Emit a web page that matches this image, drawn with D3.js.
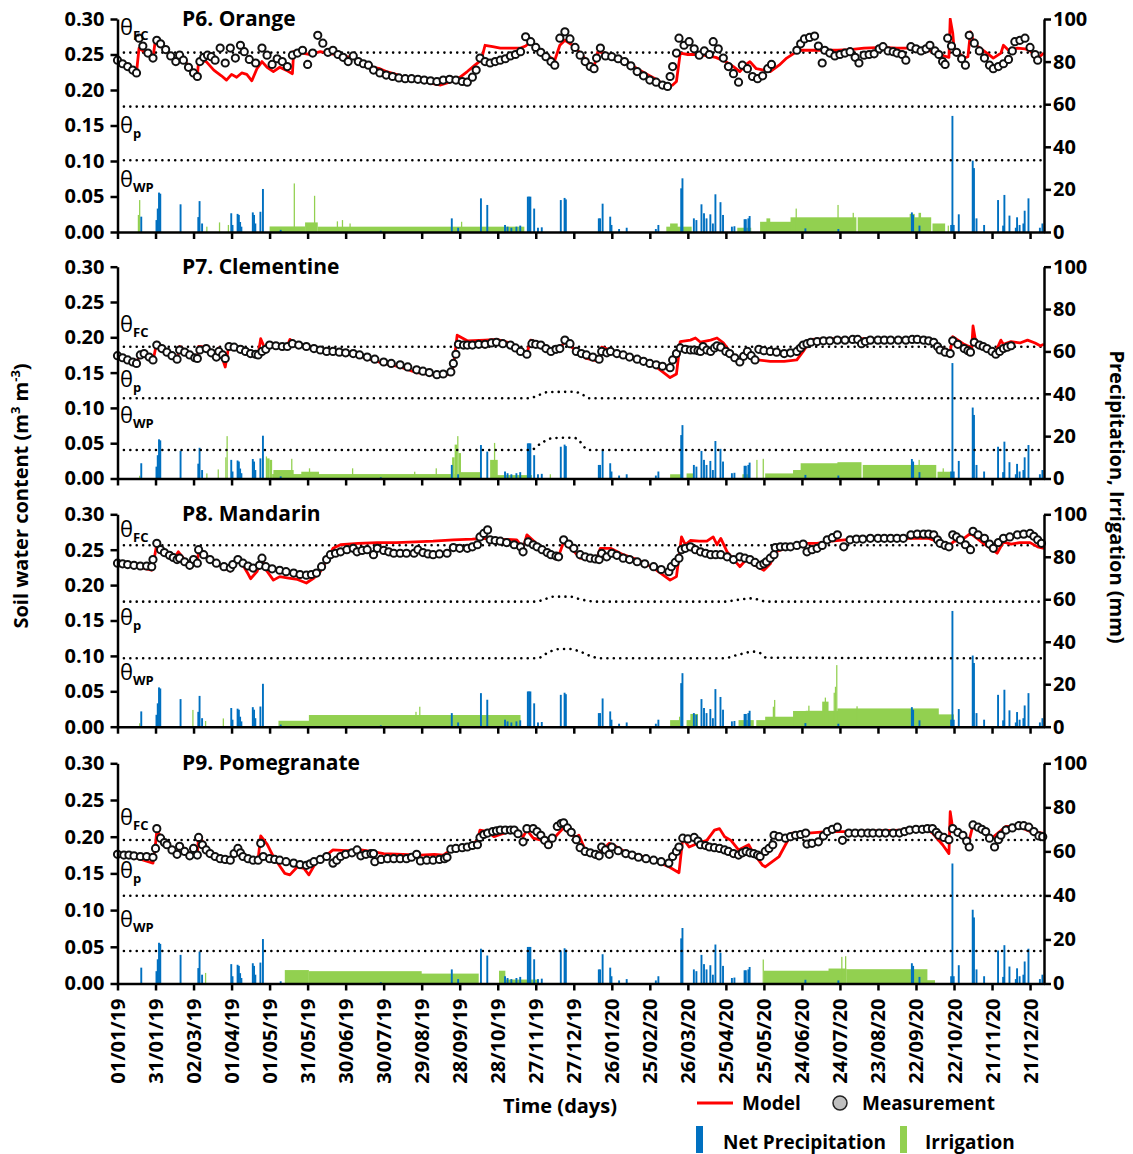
<!DOCTYPE html>
<meta charset="utf-8">
<style>
body {margin: 0; background: white;}
text {font-family: "Open Sans", sans-serif; font-weight: bold; fill: #000;}
.axis path, .axis line {stroke: #000; stroke-width: 2.5px;}
.axis text {font-size: 20px; font-family: "Open Sans", sans-serif; font-weight: bold;}
.model {fill: none; stroke: #ff0000; stroke-width: 2.8px; stroke-linejoin: round;}
.meas {fill: #fff; stroke: #111; stroke-width: 2px;}
.theta {fill: none; stroke: #000; stroke-width: 2.6px; stroke-dasharray: 0.01 6.4; stroke-linecap: round;}
.precip {fill: #0070c0;}
.irr {fill: #92d050;}
</style>
<body>
<script src="https://d3js.org/d3.v7.min.js"></script>
<script>
var width = 1133, height = 1154

// x axis: days since 01/01/19
var tickDays = d3.range(0, 721, 30)
var tickLabels = ["01/01/19", "31/01/19", "02/03/19", "01/04/19", "01/05/19", "31/05/19",
  "30/06/19", "30/07/19", "29/08/19", "28/09/19", "28/10/19", "27/11/19", "27/12/19",
  "26/01/20", "25/02/20", "26/03/20", "25/04/20", "25/05/20", "24/06/20", "24/07/20",
  "23/08/20", "22/09/20", "22/10/20", "21/11/20", "21/12/20"]
var swcTicks = [0, 0.05, 0.10, 0.15, 0.20, 0.25, 0.30]
var mmTicks = [0, 20, 40, 60, 80, 100]

// net precipitation [day, mm] (same for all plots)
var precip = [[18,7.2],[30,5.6],[31,11],[32,18.5],[33,18],[49,13],[63,7],[64,14.5],[66,4],[89,8.8],[90,3.3],
  [94,8.5],[95,8],[96,4.7],[97,2.5],[106,9.2],[107,8],[108,4],[112,9.5],[114,20.2],[128,1],[207,0.6],[263,6.4],
  [268,2],[286,15.8],[291,12.7],[305,3.3],[307,2.5],[310,2],[314,2.5],[317,3],[323,16.6],[324,16.6],[325,16.6],
  [328,11],[331,2],[334,2.2],[349,15],[352,16],[353,15.3],[379,6.4],[380,6.4],[382,13.3],[388,7.2],[389,3.3],
  [395,1.4],[401,2],[424,1.4],[426,3.3],[444,20.5],[445,25.2],[454,6.4],[456,5.6],[460,13],[462,8.8],[464,6.4],
  [467,8.3],[469,4],[471,17.7],[475,14],[477,8],[484,2.5],[486,2.7],[494,6],[495,6],[497,6.4],[498,7.5],
  [542,1.7],[568,1.4],[626,9.2],[627,8],[632,3],[657,3.3],[658,54.5],[659,3.3],[663,8.3],[674,33.5],[675,30],
  [677,6.4],[683,3.3],[694,15],[698,3],[699,17.4],[703,7.7],[708,2],[709,6.9],[711,3.3],[714,4],[715,10],
  [718,15.8],[727,2],[729,4]]

// P6 Orange
var p6Meas = [[0,.242],[4,.237],[8,.233],[12,.228],[15,.224],[17,.273],[20,.262],[24,.252],[28,.245],[31,.270],
  [34,.265],[38,.257],[42,.248],[46,.240],[49,.249],[52,.242],[56,.232],[60,.224],[63,.219],[65,.240],[68,.246],
  [71,.249],[74,.247],[77,.242],[81,.259],[85,.238],[89,.259],[93,.245],[97,.263],[100,.254],[104,.243],[109,.238],
  [114,.259],[118,.249],[122,.236],[126,.244],[130,.240],[134,.233],[138,.249],[142,.252],[146,.256],[150,.236],
  [154,.252],[158,.277],[162,.266],[166,.253],[170,.256],[174,.250],[178,.246],[182,.240],[186,.248],[190,.240],
  [194,.237],[198,.235],[202,.228],[207,.224],[212,.221],[217,.219],[222,.217],[227,.216],[232,.216],[237,.215],
  [242,.214],[247,.213],[252,.212],[257,.214],[262,.215],[267,.214],[272,.212],[276,.211],[280,.218],[283,.228],
  [286,.245],[290,.240],[294,.238],[298,.240],[302,.242],[306,.244],[310,.248],[314,.250],[318,.254],[322,.275],
  [326,.268],[330,.260],[334,.253],[338,.247],[342,.240],[345,.235],[349,.273],[353,.282],[357,.272],[361,.260],
  [365,.249],[369,.240],[373,.233],[376,.230],[378,.245],[381,.259],[385,.248],[390,.247],[395,.244],[400,.240],
  [405,.234],[410,.226],[415,.220],[420,.214],[425,.211],[430,.207],[434,.205],[436,.219],[438,.233],[441,.252],
  [443,.273],[447,.263],[451,.268],[455,.258],[459,.249],[463,.255],[467,.250],[470,.268],[474,.258],[478,.245],
  [482,.233],[486,.223],[490,.211],[493,.235],[497,.230],[501,.219],[505,.216],[509,.220],[513,.230],[516,.236],
  [536,.256],[539,.265],[542,.272],[546,.274],[550,.276],[553,.262],[556,.238],[558,.256],[562,.252],[566,.248],
  [570,.250],[574,.252],[578,.254],[582,.246],[585,.238],[589,.249],[593,.250],[597,.251],[601,.258],[604,.261],
  [608,.255],[612,.254],[615,.252],[619,.250],[622,.242],[626,.261],[630,.258],[634,.255],[638,.258],[641,.263],
  [645,.255],[648,.250],[651,.240],[653,.236],[655,.273],[658,.262],[662,.253],[666,.244],[669,.235],[672,.277],
  [676,.266],[680,.255],[684,.245],[688,.235],[691,.230],[695,.233],[699,.237],[703,.243],[706,.255],[708,.268],
  [712,.270],[716,.273],[720,.260],[724,.250],[726,.242]]
var p6Model = [[0,.242],[15,.225],[17,.259],[28,.245],[30,.272],[47,.238],[49,.250],[63,.219],[64,.242],[70,.240],
  [76,.228],[82,.220],[86,.214],[90,.222],[94,.218],[98,.224],[102,.222],[106,.213],[110,.230],[114,.240],
  [118,.232],[123,.226],[128,.232],[133,.228],[138,.223],[139,.254],[146,.252],[152,.250],[160,.254],[168,.251],
  [175,.250],[181,.247],[186,.245],[192,.240],[197,.235],[202,.232],[207,.230],[212,.226],[218,.223],[225,.219],
  [234,.214],[242,.212],[249,.209],[255,.207],[262,.211],[268,.215],[276,.226],[282,.235],[287,.242],[290,.263],
  [296,.261],[302,.259],[310,.259],[318,.259],[322,.262],[326,.268],[332,.258],[338,.250],[345,.242],[349,.263],
  [353,.270],[360,.262],[366,.250],[372,.238],[376,.233],[379,.254],[384,.252],[390,.249],[396,.245],[402,.240],
  [410,.230],[418,.222],[426,.214],[433,.205],[438,.207],[441,.212],[444,.252],[450,.250],[458,.250],[466,.248],
  [472,.246],[480,.240],[486,.233],[491,.226],[496,.236],[499,.240],[504,.230],[510,.228],[515,.226],[522,.235],
  [528,.245],[534,.252],[539,.256],[548,.256],[556,.256],[568,.256],[578,.257],[589,.259],[604,.260],[615,.259],
  [626,.259],[636,.256],[647,.254],[652,.248],[656,.246],[657,.300],[659,.280],[660,.259],[668,.245],[671,.247],
  [673,.282],[676,.265],[686,.252],[691,.245],[697,.252],[699,.263],[703,.256],[710,.259],[716,.258],[720,.255],
  [726,.245],[731,.252]]
var p6Irr = [[16,16,8],[17,17,15],[70,70,2.5],[80,80,4.5],[87,87,3.3],[120,147,2.6],[139,139,22.8],[148,157,4.5],
  [155,155,17],[158,320,2.5],[173,173,5],[177,177,5.6],[183,183,4],[271,271,4.8],[433,452,2.5],[436,441,4],
  [489,499,2],[507,531,4.8],[512,514,6.4],[531,582,6.9],[535,535,11],[568,568,12.7],[580,580,9],[584,641,6.9],
  [625,628,8.5],[632,633,9],[643,652,4],[655,655,3]]
var p6Fc = [[0,.2527],[731,.2527]]
var p6P = [[0,.1766],[731,.1766]]
var p6Wp = [[0,.101],[731,.101]]

// P7 Clementine
var p7Meas = [[0,.174],[4,.171],[8,.168],[12,.165],[15,.163],[18,.175],[21,.177],[25,.172],[28,.168],[31,.189],
  [35,.184],[39,.179],[43,.174],[47,.169],[49,.182],[53,.179],[57,.175],[61,.171],[63,.170],[65,.182],[70,.184],
  [74,.178],[78,.172],[80,.180],[83,.175],[85,.170],[88,.187],[92,.186],[97,.183],[101,.180],[105,.177],[109,.176],
  [111,.175],[114,.180],[117,.183],[120,.189],[125,.188],[130,.187],[134,.187],[138,.191],[143,.189],[149,.187],
  [155,.184],[160,.182],[165,.180],[170,.180],[175,.179],[180,.178],[186,.177],[191,.175],[197,.172],[203,.169],
  [210,.165],[216,.163],[223,.161],[229,.158],[236,.154],[241,.152],[246,.150],[252,.147],[257,.148],[263,.151],
  [265,.163],[267,.176],[269,.190],[273,.189],[276,.189],[280,.189],[285,.190],[290,.190],[295,.192],[299,.193],
  [304,.191],[310,.189],[314,.185],[318,.180],[323,.176],[327,.191],[330,.190],[334,.189],[338,.184],[342,.180],
  [346,.183],[349,.184],[353,.196],[357,.191],[362,.180],[366,.177],[370,.175],[375,.172],[380,.169],[382,.180],
  [386,.178],[389,.180],[394,.177],[399,.175],[404,.172],[410,.169],[415,.166],[420,.163],[425,.161],[430,.159],
  [436,.157],[438,.168],[441,.177],[444,.185],[448,.183],[452,.182],[455,.182],[458,.181],[460,.180],[462,.187],
  [465,.182],[468,.180],[471,.185],[473,.188],[476,.186],[480,.180],[483,.177],[487,.171],[491,.165],[494,.173],
  [497,.180],[500,.174],[503,.168],[506,.183],[510,.181],[515,.180],[520,.179],[526,.177],[531,.178],[536,.180],
  [539,.185],[541,.189],[544,.191],[547,.193],[552,.194],[557,.195],[562,.195],[568,.196],[574,.196],[580,.197],
  [584,.197],[587,.191],[590,.194],[594,.196],[600,.196],[605,.196],[610,.196],[616,.196],[622,.196],[627,.197],
  [631,.197],[636,.196],[640,.195],[644,.193],[647,.187],[649,.182],[653,.179],[657,.177],[659,.195],[663,.190],
  [668,.184],[671,.181],[673,.179],[676,.193],[680,.189],[683,.187],[686,.184],[690,.180],[693,.176],[696,.180],
  [699,.184],[702,.186],[705,.188]]
var p7Model = [[0,.174],[15,.163],[18,.178],[28,.166],[31,.193],[47,.168],[49,.187],[63,.169],[64,.187],[70,.186],
  [78,.170],[80,.185],[85,.158],[88,.190],[97,.185],[105,.178],[111,.176],[113,.198],[116,.185],[120,.192],
  [128,.190],[134,.188],[136,.197],[140,.191],[149,.188],[165,.181],[186,.176],[197,.170],[210,.163],[223,.158],
  [236,.150],[252,.146],[262,.148],[265,.158],[268,.203],[276,.195],[290,.196],[299,.197],[310,.192],[318,.183],
  [323,.177],[326,.196],[334,.191],[342,.180],[349,.184],[353,.194],[365,.176],[370,.170],[380,.166],[382,.186],
  [389,.182],[399,.176],[415,.165],[425,.158],[436,.143],[441,.148],[444,.194],[452,.196],[456,.199],[460,.193],
  [468,.196],[473,.199],[478,.192],[483,.180],[491,.166],[497,.178],[503,.166],[505,.168],[515,.166],[526,.166],
  [536,.168],[541,.180],[547,.197],[568,.198],[587,.198],[610,.197],[631,.198],[644,.195],[649,.185],[657,.180],
  [659,.201],[668,.190],[674,.185],[675,.216],[677,.195],[686,.186],[693,.180],[697,.196],[699,.190],[705,.194],
  [712,.192],[718,.196],[724,.192],[728,.188],[731,.190]]
var p7Irr = [[17,17,1.3],[70,70,2.4],[79,79,4.3],[85,85,10],[86,86,20],[117,117,10.4],[118,119,9.5],[120,121,8.8],
  [122,265,2.1],[123,138,4],[137,137,9.3],[145,158,3.2],[151,151,4.8],[185,185,4.8],[234,234,3.2],[251,251,4.8],
  [264,265,10],[266,267,16],[268,268,20],[269,270,12],[271,286,3],[294,299,8.8],[297,297,16.8],[299,326,1.6],
  [341,341,2],[436,444,2],[449,454,2.4],[493,498,2],[504,504,8.8],[509,509,9.3],[511,533,2.4],[533,539,4],
  [539,568,7.2],[568,586,7.7],[588,645,6.4],[632,632,8.8],[647,657,3.2],[651,651,4.8]]
var p7Fc = [[0,.1867],[731,.1867]]
var p7P = [[0,.1136],[325,.1136],[332,.118],[340,.1225],[360,.1228],[366,.120],[372,.1136],[731,.1136]]
var p7Wp = [[0,.0404],[326,.0404],[334,.0496],[342,.0567],[352,.0578],[360,.0576],[364,.0545],[367,.047],
  [372,.0404],[731,.0404]]

// P8 Mandarin
var p8Meas = [[0,.231],[4,.230],[8,.229],[13,.228],[18,.227],[23,.227],[27,.226],[28,.236],[31,.259],[34,.250],
  [37,.246],[41,.242],[44,.239],[47,.236],[49,.238],[53,.233],[57,.228],[60,.236],[63,.231],[64,.250],[68,.243],
  [73,.236],[78,.231],[84,.226],[89,.224],[91,.229],[95,.236],[99,.231],[103,.227],[107,.224],[112,.228],
  [114,.238],[117,.226],[122,.223],[128,.221],[133,.219],[139,.217],[144,.215],[149,.214],[153,.215],[157,.217],
  [161,.226],[165,.236],[168,.243],[172,.245],[176,.247],[181,.250],[186,.252],[189,.247],[193,.249],[197,.250],
  [202,.243],[205,.252],[210,.249],[214,.247],[218,.245],[223,.245],[228,.245],[234,.245],[237,.250],[241,.246],
  [245,.244],[249,.243],[254,.244],[260,.245],[265,.253],[270,.252],[276,.252],[280,.254],[284,.257],[286,.268],
  [289,.273],[292,.278],[294,.264],[298,.263],[302,.262],[307,.260],[313,.257],[318,.254],[320,.247],[324,.261],
  [328,.257],[331,.254],[335,.250],[339,.246],[342,.243],[346,.241],[348,.240],[352,.264],[356,.258],[360,.252],
  [365,.243],[369,.240],[373,.238],[377,.237],[380,.236],[382,.245],[386,.240],[390,.245],[394,.242],[399,.238],
  [404,.236],[410,.233],[416,.230],[423,.226],[429,.222],[435,.219],[437,.226],[440,.232],[443,.238],[445,.250],
  [448,.252],[452,.254],[456,.250],[460,.247],[464,.245],[468,.243],[472,.243],[476,.243],[481,.240],[486,.236],
  [491,.240],[495,.238],[499,.236],[503,.232],[507,.228],[510,.230],[512,.233],[515,.238],[518,.243],[519,.253],
  [523,.254],[527,.254],[531,.254],[536,.256],[541,.258],[544,.247],[548,.250],[552,.252],[556,.256],[560,.264],
  [564,.267],[568,.271],[573,.254],[578,.264],[583,.265],[588,.265],[594,.266],[600,.266],[605,.266],[610,.266],
  [615,.266],[620,.266],[626,.271],[631,.272],[636,.272],[640,.272],[644,.271],[647,.264],[649,.259],[653,.256],
  [656,.254],[659,.271],[662,.268],[665,.264],[669,.257],[673,.250],[675,.276],[679,.271],[684,.266],[688,.258],
  [691,.252],[695,.260],[699,.266],[704,.268],[710,.271],[715,.272],[720,.273],[723,.269],[726,.264],[729,.259]]
var p8Model = [[0,.230],[13,.227],[27,.221],[29,.238],[31,.258],[34,.250],[39,.243],[45,.238],[48,.247],[52,.238],
  [57,.228],[60,.236],[63,.230],[64,.250],[73,.236],[84,.225],[89,.220],[95,.234],[99,.228],[103,.216],[105,.209],
  [110,.219],[114,.237],[117,.222],[123,.207],[128,.212],[135,.210],[142,.208],[149,.203],[155,.210],[160,.219],
  [165,.235],[170,.252],[176,.257],[190,.259],[205,.260],[220,.260],[235,.261],[249,.262],[265,.264],[280,.265],
  [289,.266],[300,.265],[315,.264],[320,.252],[323,.271],[331,.258],[340,.245],[347,.236],[352,.261],[360,.248],
  [365,.238],[373,.236],[378,.236],[381,.252],[389,.252],[399,.243],[410,.236],[423,.224],[436,.207],[441,.212],
  [445,.268],[448,.257],[452,.263],[459,.262],[465,.262],[470,.268],[473,.257],[476,.266],[481,.247],[491,.226],
  [496,.236],[503,.228],[510,.221],[515,.230],[519,.247],[530,.254],[541,.259],[552,.259],[563,.262],[580,.265],
  [600,.266],[620,.266],[640,.266],[650,.260],[656,.255],[660,.262],[665,.262],[673,.273],[684,.258],[694,.245],
  [699,.261],[705,.258],[712,.260],[720,.260],[726,.254],[731,.252]]
var p8Irr = [[17,17,1.6],[59,59,7.9],[69,69,2.7],[83,83,3.9],[127,151,2.8],[151,317,5.5],[238,238,9.4],[235,235,7],
  [436,443,3.1],[443,443,4.7],[449,452,3.1],[452,457,6],[490,501,3.1],[504,511,3.1],[511,533,4.7],[517,517,9.4],
  [518,518,12.6],[533,543,7.4],[545,545,9.9],[543,568,7.5],[556,560,11.8],[558,558,13.7],[565,565,16],
  [566,566,18.8],[567,567,29],[568,647,8.6],[583,583,9.6],[647,659,5.8]]
var p8Fc = [[0,.2562],[731,.2562]]
var p8P = [[0,.1766],[330,.1766],[337,.180],[344,.1837],[357,.1837],[365,.180],[378,.1766],[478,.1766],
  [489,.179],[501,.1813],[508,.178],[512,.1766],[731,.1766]]
var p8Wp = [[0,.0966],[331,.0966],[341,.106],[349,.1097],[357,.1097],[365,.106],[373,.100],[381,.0966],
  [478,.0966],[489,.1013],[502,.106],[507,.104],[512,.0975],[731,.0966]]

// P9 Pomegranate
var p9Meas = [[0,.176],[5,.175],[9,.175],[13,.174],[18,.173],[23,.173],[28,.172],[30,.184],[31,.211],[34,.198],
  [37,.192],[39,.189],[43,.182],[47,.176],[49,.187],[53,.180],[57,.174],[60,.184],[63,.175],[64,.199],[67,.189],
  [70,.182],[73,.177],[77,.173],[81,.170],[85,.169],[89,.168],[92,.177],[95,.184],[97,.178],[99,.173],[103,.170],
  [107,.168],[111,.168],[113,.191],[115,.173],[120,.170],[124,.169],[128,.168],[133,.166],[139,.164],[144,.162],
  [149,.161],[152,.163],[155,.166],[160,.169],[165,.173],[170,.164],[173,.168],[176,.173],[180,.176],[185,.178],
  [189,.182],[192,.174],[196,.176],[200,.177],[202,.177],[203,.166],[208,.169],[213,.170],[218,.170],[223,.170],
  [228,.170],[232,.172],[236,.176],[239,.167],[244,.168],[249,.168],[254,.169],[258,.170],[260,.172],[263,.183],
  [267,.184],[272,.185],[276,.186],[280,.188],[284,.189],[286,.199],[289,.203],[292,.205],[296,.207],[299,.208],
  [302,.209],[306,.209],[310,.209],[313,.209],[316,.204],[320,.193],[323,.211],[328,.211],[331,.207],[334,.202],
  [337,.195],[340,.189],[343,.198],[347,.214],[350,.218],[352,.219],[355,.212],[358,.206],[362,.196],[365,.185],
  [369,.180],[373,.178],[377,.176],[380,.174],[382,.186],[385,.182],[388,.176],[390,.186],[395,.181],[401,.177],
  [406,.175],[411,.172],[417,.170],[423,.168],[429,.166],[435,.164],[438,.173],[441,.180],[443,.186],[446,.198],
  [450,.197],[455,.199],[458,.194],[460,.189],[464,.188],[467,.186],[471,.185],[475,.184],[479,.182],[482,.180],
  [486,.177],[490,.175],[493,.178],[496,.180],[499,.178],[502,.177],[505,.175],[507,.173],[511,.180],[514,.184],
  [517,.189],[518,.202],[522,.200],[527,.198],[531,.200],[535,.202],[539,.203],[543,.205],[544,.190],[548,.191],
  [553,.193],[557,.201],[560,.207],[564,.210],[568,.213],[572,.195],[577,.205],[582,.205],[587,.205],[592,.205],
  [596,.205],[601,.205],[606,.205],[612,.205],[617,.205],[621,.207],[625,.209],[630,.210],[635,.210],[639,.211],
  [643,.211],[646,.206],[648,.202],[652,.199],[656,.196],[659,.211],[663,.206],[667,.202],[670,.194],[672,.186],
  [675,.216],[679,.213],[682,.210],[685,.207],[688,.198],[692,.186],[695,.196],[697,.202],[701,.209],[706,.212],
  [711,.215],[715,.215],[719,.213],[723,.207],[727,.201],[730,.200]]
var p9Model = [[0,.175],[13,.172],[28,.164],[30,.190],[31,.208],[39,.190],[47,.177],[49,.190],[57,.176],[60,.186],
  [63,.176],[64,.202],[73,.178],[89,.167],[95,.184],[99,.173],[107,.170],[111,.170],[113,.201],[118,.190],
  [123,.173],[128,.160],[132,.150],[136,.148],[142,.159],[147,.157],[151,.148],[157,.166],[165,.175],[170,.182],
  [180,.181],[192,.182],[200,.180],[210,.177],[225,.176],[239,.175],[250,.176],[257,.175],[263,.182],[276,.186],
  [284,.195],[286,.209],[292,.207],[297,.200],[302,.203],[313,.209],[320,.200],[323,.209],[328,.198],[335,.195],
  [340,.189],[347,.203],[352,.212],[357,.203],[362,.200],[364,.202],[369,.182],[380,.177],[388,.191],[392,.188],
  [401,.179],[417,.172],[435,.159],[443,.151],[446,.198],[451,.186],[458,.191],[465,.195],[471,.209],[475,.211],
  [479,.200],[484,.195],[490,.182],[498,.189],[502,.177],[509,.161],[511,.159],[522,.173],[532,.205],[545,.205],
  [560,.207],[575,.207],[596,.208],[620,.209],[638,.210],[643,.205],[651,.189],[656,.177],[657,.234],[659,.211],
  [672,.195],[675,.216],[690,.198],[701,.214],[711,.214],[720,.207],[730,.205]]
var p9Irr = [[69,69,4.8],[132,150,6.1],[151,239,5.6],[239,284,4.5],[301,305,5.8],[306,331,1.8],[509,509,10.9],
  [510,561,5.8],[561,574,6.8],[571,571,12.1],[574,574,12.4],[575,638,6.5],[638,644,1.5]]
var p9Fc = [[0,.1955],[731,.1955]]
var p9P = [[0,.1196],[731,.1196]]
var p9Wp = [[0,.0443],[731,.0443]]

var panels = [
  {name: "P6. Orange", top: 19, bottom: 232, meas: p6Meas, model: p6Model, irr: p6Irr, th: [p6Fc, p6P, p6Wp], lab: [16, 114, 168]},
  {name: "P7. Clementine", top: 266.7, bottom: 478.5, meas: p7Meas, model: p7Model, irr: p7Irr, th: [p7Fc, p7P, p7Wp], lab: [65, 120, 156]},
  {name: "P8. Mandarin", top: 514.3, bottom: 726.7, meas: p8Meas, model: p8Model, irr: p8Irr, th: [p8Fc, p8P, p8Wp], lab: [23, 111, 166]},
  {name: "P9. Pomegranate", top: 763.3, bottom: 983.5, meas: p9Meas, model: p9Model, irr: p9Irr, th: [p9Fc, p9P, p9Wp], lab: [62, 115, 164]}
]
var subs = ["FC", "p", "WP"]

var svg = d3.select("body").append("svg")
  .attr("width", width).attr("height", height)
var x = d3.scaleLinear().domain([0, 731]).range([117.5, 1044])

panels.forEach(function(p, i) {
  var y = d3.scaleLinear().domain([0, 0.3]).range([p.bottom, p.top])
  var yr = d3.scaleLinear().domain([0, 100]).range([p.bottom, p.top])
  var g = svg.append("g")
  g.append("clipPath").attr("id", "clip" + i).append("rect")
    .attr("x", x(0)).attr("y", p.top - 1).attr("width", x(731) - x(0)).attr("height", p.bottom - p.top + 1)
  var plot = g.append("g").attr("clip-path", "url(#clip" + i + ")")

  // bars
  plot.selectAll(".irr").data(p.irr).enter().append("rect")
    .attr("class", "irr")
    .attr("x", function(d) { return x(d[0]) })
    .attr("width", function(d) { return x(d[1] + 1) - x(d[0]) })
    .attr("y", function(d) { return yr(d[2]) })
    .attr("height", function(d) { return p.bottom - yr(d[2]) })
  plot.selectAll(".precip").data(precip).enter().append("rect")
    .attr("class", "precip")
    .attr("x", function(d) { return x(d[0]) })
    .attr("width", 1.9)
    .attr("y", function(d) { return yr(d[1]) })
    .attr("height", function(d) { return p.bottom - yr(d[1]) })

  // threshold lines
  var tline = d3.line().x(function(d) { return x(d[0]) }).y(function(d) { return y(d[1]) })
    .curve(d3.curveMonotoneX)
  p.th.forEach(function(t) {
    plot.append("path").datum(t).attr("class", "theta").attr("d", tline)
  })

  // model and measurement
  var line = d3.line().x(function(d) { return x(d[0]) }).y(function(d) { return y(d[1]) })
  plot.append("path").datum(p.model).attr("class", "model").attr("d", line)
  g.selectAll(".meas").data(p.meas).enter().append("circle")
    .attr("class", "meas")
    .attr("cx", function(d) { return x(d[0]) }).attr("cy", function(d) { return y(d[1]) })
    .attr("r", 3.6)

  // axes
  var xa = g.append("g").attr("class", "axis").attr("transform", "translate(0," + p.bottom + ")")
    .call(d3.axisBottom(x).tickValues(tickDays).tickSize(7).tickSizeOuter(0)
      .tickFormat(function(d, k) { return i == 3 ? tickLabels[k] : "" }))
  if (i == 3) {
    xa.selectAll("text").attr("transform", "rotate(-90)")
      .attr("x", -15).attr("y", 0).attr("dy", ".35em").style("text-anchor", "end")
  }
  g.append("g").attr("class", "axis").attr("transform", "translate(" + x(0) + ",0)")
    .call(d3.axisLeft(y).tickValues(swcTicks).tickSize(7).tickSizeOuter(0).tickFormat(d3.format(".2f")))
    .selectAll("text").attr("x", -13)
  g.append("g").attr("class", "axis").attr("transform", "translate(" + x(731) + ",0)")
    .call(d3.axisRight(yr).tickValues(mmTicks).tickSize(7).tickSizeOuter(0))
    .selectAll("text").attr("x", 9)

  // titles and theta labels
  g.append("text").attr("x", 182).attr("y", p.top + 7).attr("font-size", 21).text(p.name)
  p.lab.forEach(function(ly, k) {
    var t = g.append("text").attr("x", 120).attr("y", p.top + ly)
    t.append("tspan").attr("font-size", 22).attr("font-weight", "normal").text("θ")
    t.append("tspan").attr("font-size", 13).attr("dy", 5).text(subs[k])
  })
})

// axis titles
var yl = svg.append("text").attr("transform", "translate(28,496) rotate(-90)")
  .attr("text-anchor", "middle").attr("font-size", 20)
yl.append("tspan").text("Soil water content (m")
yl.append("tspan").attr("font-size", 13).attr("dy", -8).text("3")
yl.append("tspan").attr("dy", 8).text(" m")
yl.append("tspan").attr("font-size", 13).attr("dy", -8).text("-3")
yl.append("tspan").attr("dy", 8).text(")")
svg.append("text").attr("transform", "translate(1110,497) rotate(90)")
  .attr("text-anchor", "middle").attr("font-size", 20).text("Precipitation, Irrigation (mm)")
svg.append("text").attr("x", 560).attr("y", 1113).attr("text-anchor", "middle")
  .attr("font-size", 20).text("Time (days)")

// legend
var lg = svg.append("g")
lg.append("line").attr("x1", 697).attr("x2", 733).attr("y1", 1103).attr("y2", 1103)
  .attr("stroke", "#ff0000").attr("stroke-width", 3)
lg.append("text").attr("x", 742).attr("y", 1110).attr("font-size", 19).text("Model")
lg.append("circle").attr("cx", 840).attr("cy", 1103).attr("r", 7)
  .attr("fill", "#bfbfbf").attr("stroke", "#222").attr("stroke-width", 1.5)
lg.append("text").attr("x", 862).attr("y", 1110).attr("font-size", 19).text("Measurement")
lg.append("rect").attr("x", 696).attr("y", 1126).attr("width", 7).attr("height", 27).attr("class", "precip")
lg.append("text").attr("x", 723).attr("y", 1149).attr("font-size", 19).text("Net Precipitation")
lg.append("rect").attr("x", 900).attr("y", 1126).attr("width", 7).attr("height", 27).attr("class", "irr")
lg.append("text").attr("x", 925).attr("y", 1149).attr("font-size", 19).text("Irrigation")
</script>
